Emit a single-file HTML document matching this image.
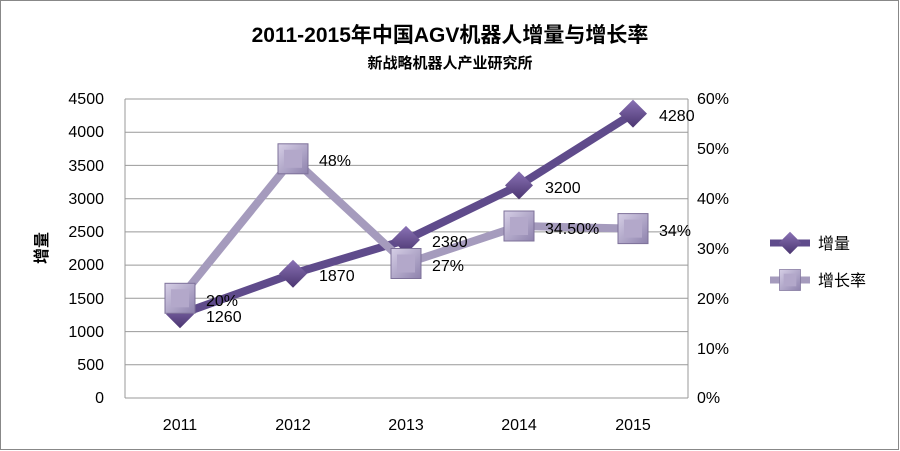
<!DOCTYPE html><html><head><meta charset="utf-8"><style>body{margin:0;background:#fff}svg{display:block}text{font-family:"Liberation Sans","Noto Sans CJK SC",sans-serif}</style></head><body>
<svg width="900" height="451" viewBox="0 0 900 451">
<rect x="0.5" y="0.5" width="898" height="449" fill="#fff" stroke="#888"/>
<defs>
<linearGradient id="sq" x1="0" y1="0" x2="1" y2="1"><stop offset="0" stop-color="#d6cfe6"/><stop offset="1" stop-color="#8e82ad"/></linearGradient>
<linearGradient id="dm" x1="0" y1="0" x2="0" y2="1"><stop offset="0" stop-color="#8a72b5"/><stop offset="1" stop-color="#4a3570"/></linearGradient>
<g id="s"><rect x="-15" y="-15" width="30" height="30" fill="url(#sq)" stroke="#7d7199"/><rect x="-9" y="-9" width="18" height="18" fill="#b3a8ca"/></g>
<g id="d"><polygon points="0,-14 14,0 0,14 -14,0" fill="url(#dm)"/></g>
</defs>
<text x="450" y="42" text-anchor="middle" font-size="21" font-weight="bold">2011-2015年中国AGV机器人增量与增长率</text>
<text x="450" y="68" text-anchor="middle" font-size="15" font-weight="bold">新战略机器人产业研究所</text>
<g stroke="#999" stroke-width="1">
<line x1="125" y1="99" x2="688" y2="99"/><line x1="125" y1="132.2" x2="688" y2="132.2"/><line x1="125" y1="165.4" x2="688" y2="165.4"/><line x1="125" y1="198.7" x2="688" y2="198.7"/><line x1="125" y1="231.9" x2="688" y2="231.9"/><line x1="125" y1="265.1" x2="688" y2="265.1"/><line x1="125" y1="298.3" x2="688" y2="298.3"/><line x1="125" y1="331.6" x2="688" y2="331.6"/><line x1="125" y1="364.8" x2="688" y2="364.8"/>
<line x1="125" y1="99" x2="125" y2="398"/><line x1="688" y1="99" x2="688" y2="398"/><line x1="125" y1="398" x2="688" y2="398"/>
</g>
<g font-size="16" text-anchor="end" fill="#000">
<text x="104" y="104">4500</text><text x="104" y="137">4000</text><text x="104" y="171">3500</text><text x="104" y="204">3000</text><text x="104" y="237">2500</text><text x="104" y="270">2000</text><text x="104" y="304">1500</text><text x="104" y="337">1000</text><text x="104" y="370">500</text><text x="104" y="403">0</text>
</g>
<g font-size="16" text-anchor="start">
<text x="697" y="104">60%</text><text x="697" y="154">50%</text><text x="697" y="204">40%</text><text x="697" y="254">30%</text><text x="697" y="304">20%</text><text x="697" y="354">10%</text><text x="697" y="403">0%</text>
</g>
<g font-size="16" text-anchor="middle">
<text x="180" y="430">2011</text><text x="293" y="430">2012</text><text x="406" y="430">2013</text><text x="519" y="430">2014</text><text x="633" y="430">2015</text>
</g>
<text transform="translate(47,248) rotate(-90)" font-size="16" font-weight="bold" text-anchor="middle">增量</text>
<polyline points="180,314.3 293,273.7 406,239.9 519,185.4 633,113.6" fill="none" stroke="#5f4b8b" stroke-width="8"/>
<polyline points="180,298.3 293,158.8 406,263.5 519,226 633,228.6" fill="none" stroke="#a59bbd" stroke-width="8"/>
<use href="#d" x="180" y="314.3"/><use href="#d" x="293" y="273.7"/><use href="#d" x="406" y="239.9"/><use href="#d" x="519" y="185.4"/><use href="#d" x="633" y="113.6"/>
<use href="#s" x="180" y="298.3"/><use href="#s" x="293" y="158.8"/><use href="#s" x="406" y="263.5"/><use href="#s" x="519" y="226"/><use href="#s" x="633" y="228.6"/>
<g font-size="16">
<text x="206" y="322">1260</text><text x="319" y="281">1870</text><text x="432" y="247">2380</text><text x="545" y="193">3200</text><text x="659" y="121">4280</text>
<text x="206" y="306">20%</text><text x="319" y="166">48%</text><text x="432" y="271">27%</text><text x="545" y="234">34.50%</text><text x="659" y="236">34%</text>
</g>
<line x1="770" y1="243" x2="810" y2="243" stroke="#5f4b8b" stroke-width="7"/><use href="#d" x="790" y="243" transform="translate(790,243) scale(0.8) translate(-790,-243)"/>
<text x="818" y="249" font-size="16">增量</text>
<line x1="770" y1="280" x2="810" y2="280" stroke="#a59bbd" stroke-width="7"/><use href="#s" x="790" y="280" transform="translate(790,280) scale(0.7) translate(-790,-280)"/>
<text x="818" y="286" font-size="16">增长率</text>
</svg></body></html>
